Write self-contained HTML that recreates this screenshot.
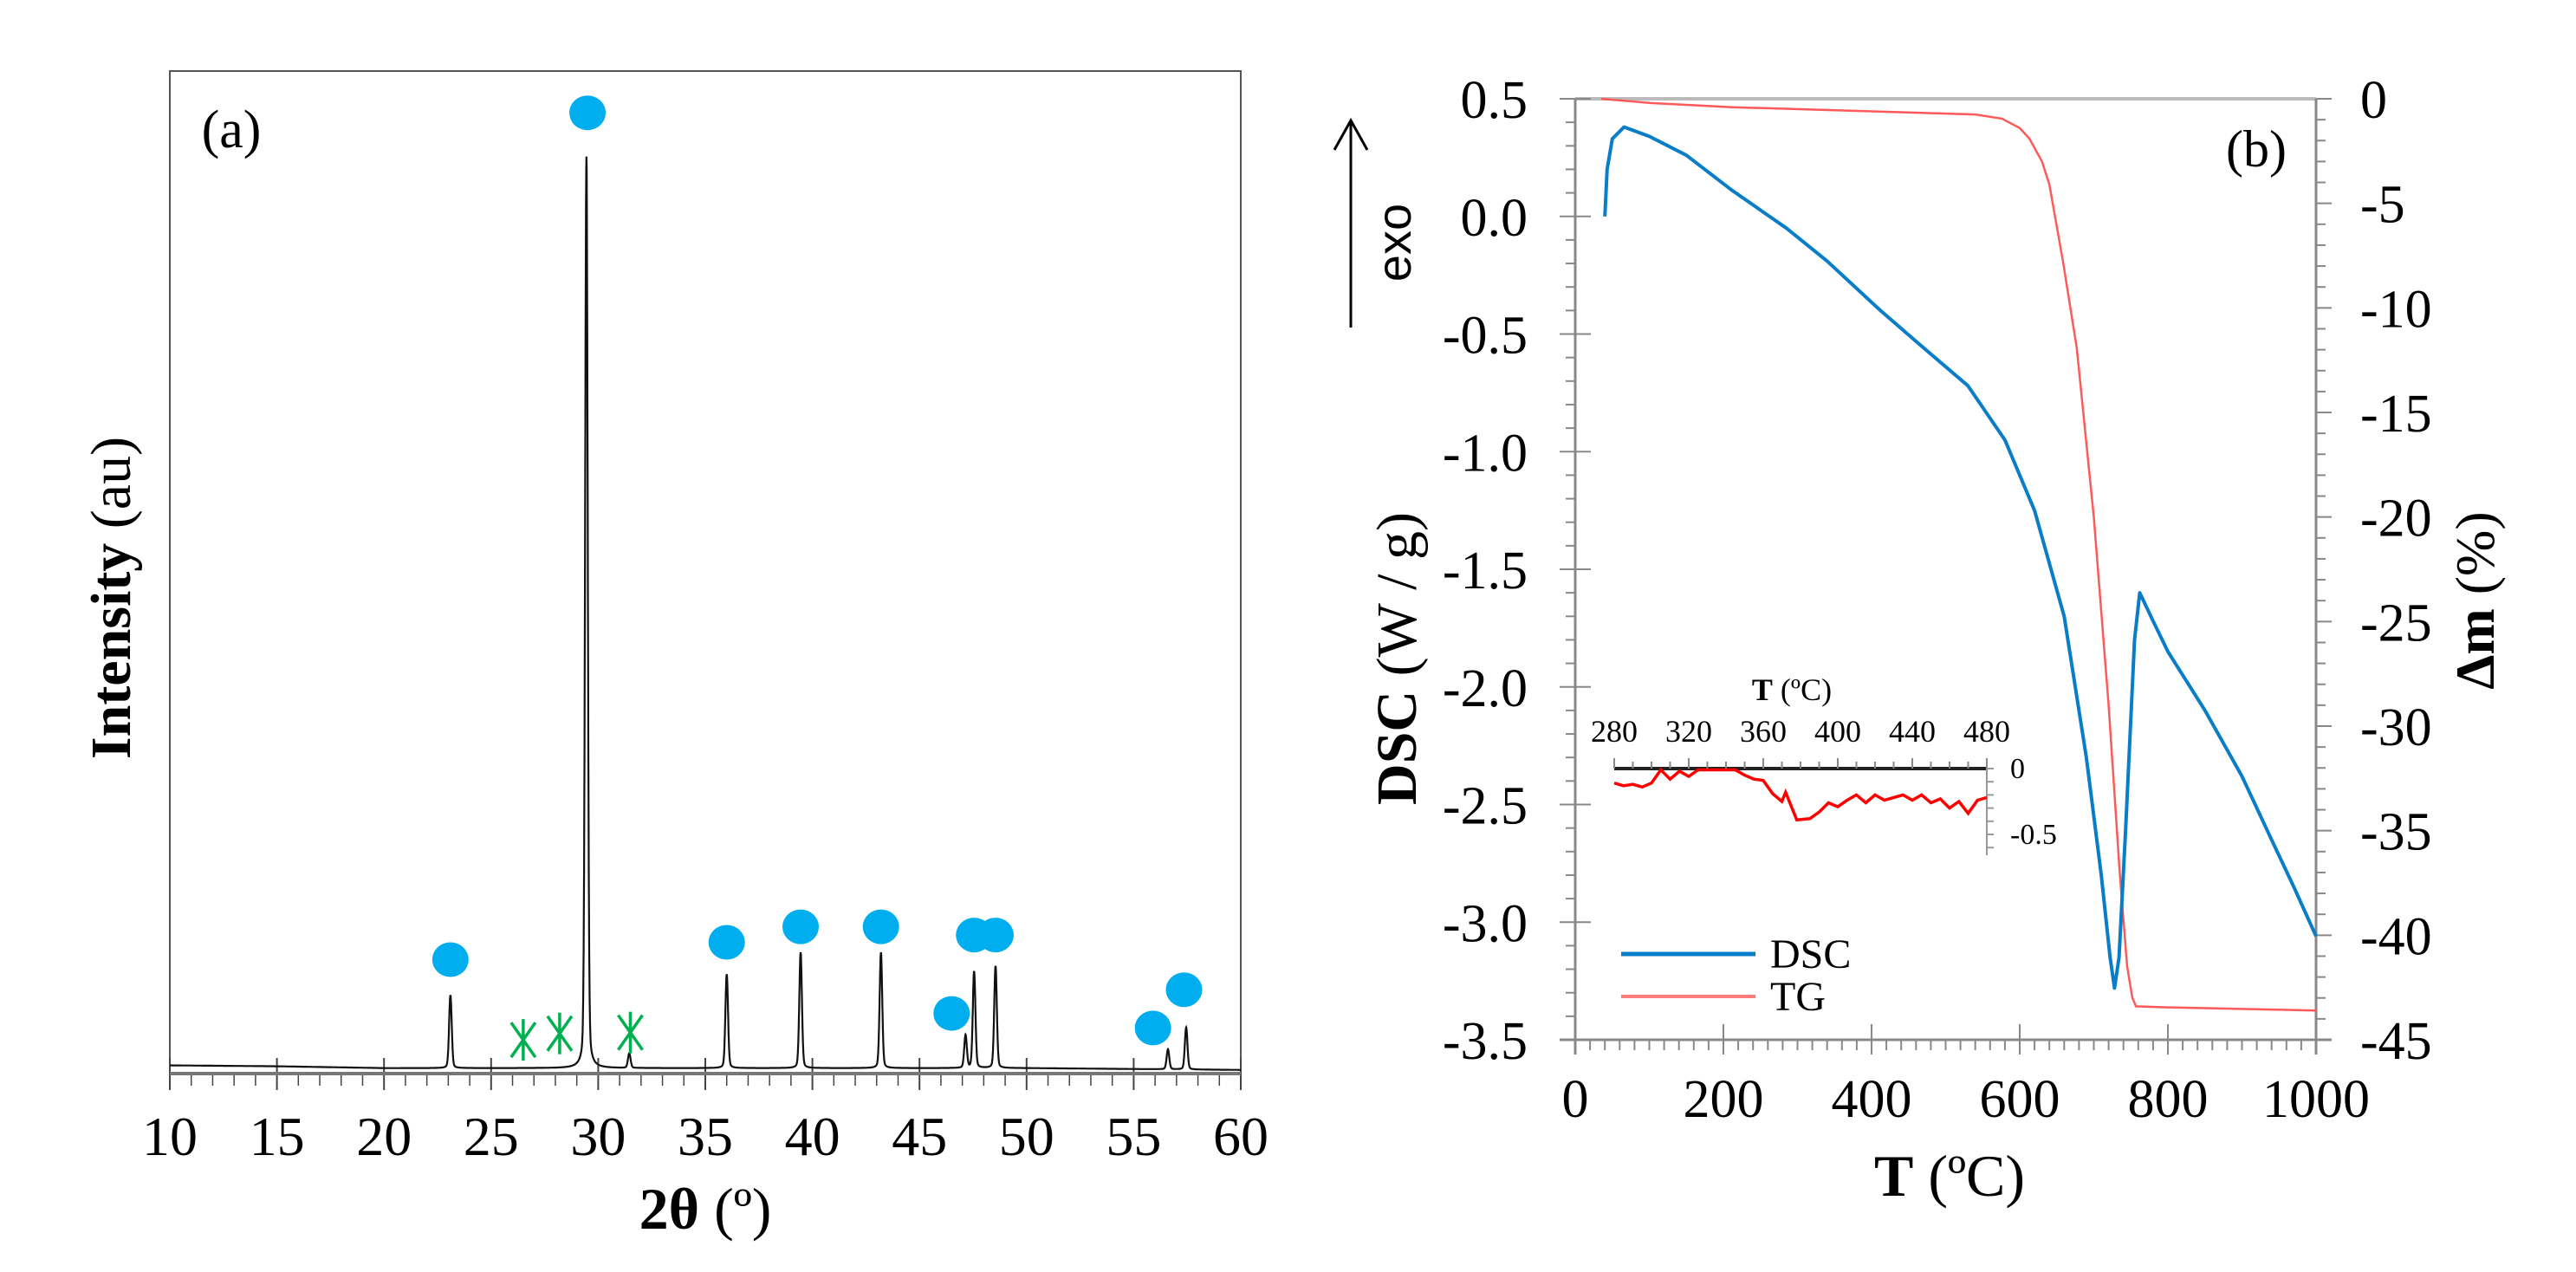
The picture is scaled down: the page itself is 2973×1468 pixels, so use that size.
<!DOCTYPE html>
<html><head><meta charset="utf-8"><style>
html,body{margin:0;padding:0;background:#fff;}
svg{display:block;}
text{font-family:"Liberation Serif",serif;fill:#000;}
</style></head><body>
<svg id="fig" width="2973" height="1468" viewBox="0 0 2973 1468" xmlns="http://www.w3.org/2000/svg">
<g id="panelA"></g>
<g id="panelB"></g>
</svg>
<script>
// ---------- Panel (a) data ----------
const xrdPeakPos = [23.1, 29.45, 31.45, 36.0, 39.45, 43.2, 47.15, 47.55, 48.55, 56.6, 57.45];
const xrdPeakHeight = [8.0, 100, 1.6, 10.3, 12.7, 12.7, 3.6, 10.6, 11.2, 2.2, 4.6];
const xrdBaseline = [0.9, 0.8, 0.6, 0.6, 0.6, 0.6, 0.6, 0.6, 0.6, 0.5, 0.4]; // at 10,15,...,60
const xrdTicks = [10, 15, 20, 25, 30, 35, 40, 45, 50, 55, 60];
const phaseDotPos = [23.1, 29.5, 36.0, 39.45, 43.2, 46.5, 47.55, 48.55, 55.9, 57.35];
const phaseDotInt = [12.5, 105.4, 14.4, 16.1, 16.1, 6.6, 15.2, 15.2, 5.0, 9.2];
const starPos = [26.5, 28.2, 31.5];
const starInt = [3.7, 4.4, 4.5];

// ---------- Panel (b) data ----------
const dscT = [40, 43, 50, 66, 100, 150, 212, 285, 340, 412, 467, 530, 580, 620, 660, 690, 710, 722, 728, 734, 743, 755, 762, 780, 800, 850, 900, 940, 970, 1000];
const dscV = [0.0, 0.2, 0.33, 0.38, 0.34, 0.26, 0.11, -0.05, -0.19, -0.40, -0.55, -0.72, -0.95, -1.25, -1.7, -2.3, -2.8, -3.15, -3.28, -3.15, -2.6, -1.8, -1.6, -1.72, -1.85, -2.1, -2.38, -2.65, -2.85, -3.06];
const tgT = [35, 100, 212, 400, 540, 576, 600, 613, 630, 640, 658, 677, 700, 720, 735, 745, 752, 757, 800, 1000];
const tgV = [0, -0.2, -0.4, -0.6, -0.75, -0.95, -1.4, -1.9, -3.0, -4.1, -7.7, -11.9, -20, -29, -37, -41.5, -43, -43.4, -43.45, -43.6];
const dscTicks = [0.5, 0.0, -0.5, -1.0, -1.5, -2.0, -2.5, -3.0, -3.5];
const tgTicks = [0, -5, -10, -15, -20, -25, -30, -35, -40, -45];
const tTicks = [0, 200, 400, 600, 800, 1000];
const insetT = [280, 285, 290, 295, 300, 305, 310, 315, 320, 325, 330, 345, 350, 355, 360, 365, 370, 372, 378, 385, 390, 395, 400, 405, 410, 415, 420, 425, 430, 435, 440, 445, 450, 455, 460, 465, 470, 475, 480];
const insetV = [-0.11, -0.13, -0.12, -0.14, -0.11, -0.01, -0.08, -0.02, -0.06, -0.01, -0.01, -0.01, -0.05, -0.08, -0.09, -0.19, -0.25, -0.18, -0.39, -0.38, -0.33, -0.26, -0.29, -0.24, -0.2, -0.26, -0.2, -0.24, -0.22, -0.2, -0.24, -0.2, -0.26, -0.23, -0.3, -0.25, -0.34, -0.24, -0.22];
const insetTicks = [280, 320, 360, 400, 440, 480];

const NS = "http://www.w3.org/2000/svg";
function mk(parent, tag, attrs, txt) {
  const e = document.createElementNS(NS, tag);
  for (const k in attrs) e.setAttribute(k, attrs[k]);
  if (txt !== undefined) e.textContent = txt;
  parent.appendChild(e);
  return e;
}

// ===== Panel A =====
const A = document.getElementById('panelA');
const aL = 196, aR = 1432, aT = 82, aB = 1239;
const ax = v => aL + (v - 10) / 50 * (aR - aL);
const ay = v => aB - v * 10.52;

let fr = mk(A, 'rect', {x: aL, y: aT, width: aR - aL, height: aB - aT, fill: 'none', stroke: '#555', 'stroke-width': 2});


for (let v = 10; v <= 60; v++) {
  const major = v % 5 === 0;
  let t = mk(A, 'line', {x1: ax(v), x2: ax(v), y1: major ? aB - 18 : aB, y2: aB + (major ? 19 : 14), stroke: '#444', 'stroke-width': major ? 2 : 1.5});
  
  
}
mk(A, 'line', {x1: aL, x2: aR, y1: aB, y2: aB, stroke: '#777', 'stroke-width': 4});
xrdTicks.forEach(v => {
  let t = mk(A, 'text', {x: ax(v), y: 1333, 'font-size': 64, 'text-anchor': 'middle'}, String(v));
  
  
});
let xt = mk(A, 'text', {x: ax(35), y: 1418, 'font-size': 68, 'text-anchor': 'middle'});


mk(xt, 'tspan', {'font-weight': 'bold'}, '2θ');
mk(xt, 'tspan', {}, ' (º)');
let yt = mk(A, 'text', {x: 0, y: 0, 'font-size': 66, 'text-anchor': 'middle', transform: 'translate(150,690) rotate(-90)'});


mk(yt, 'tspan', {'font-weight': 'bold'}, 'Intensity');
mk(yt, 'tspan', {}, ' (au)');
let la = mk(A, 'text', {x: 267, y: 170, 'font-size': 62, 'text-anchor': 'middle'}, '(a)');



// pattern
function baseAt(x) {
  const i = Math.min(9, Math.floor((x - 10) / 5));
  const f = (x - 10 - i * 5) / 5;
  return xrdBaseline[i] * (1 - f) + xrdBaseline[i + 1] * f;
}
let d = '';
for (let x = 10; x <= 60.0001; x += 0.01) {
  let v = baseAt(x);
  xrdPeakPos.forEach((p, i) => {
    const g = 0.06;
    v += xrdPeakHeight[i] * (0.85 * Math.exp(-((x - p) * (x - p)) / (2 * g * g)) + 0.15 / (1 + ((x - p) / 0.09) ** 2));
  });
  d += (d ? 'L' : 'M') + ax(x).toFixed(1) + ' ' + ay(v).toFixed(1);
}
let pat = mk(A, 'path', {d: d, fill: 'none', stroke: '#111', 'stroke-width': 2.2});


phaseDotPos.forEach((p, i) => {
  let c = mk(A, 'ellipse', {cx: ax(p), cy: ay(phaseDotInt[i]), rx: 21, ry: 20, fill: '#00aeef'});
  
  
});
starPos.forEach((p, i) => {
  const cx = ax(p), cy = ay(starInt[i]);
  let g = mk(A, 'g', {stroke: '#00b050', 'stroke-width': 3.5});
  
  
  mk(g, 'line', {x1: cx, x2: cx, y1: cy - 24, y2: cy + 24});
  mk(g, 'line', {x1: cx - 14, x2: cx + 14, y1: cy - 20, y2: cy + 20});
  mk(g, 'line', {x1: cx + 14, x2: cx - 14, y1: cy - 20, y2: cy + 20});
});

// ===== Panel B =====
const B = document.getElementById('panelB');
const bL = 1818, bR = 2673, bT = 114, bB = 1200;
const bx = t => bL + t / 1000 * (bR - bL);
const byD = v => bT + (0.5 - v) / 4 * (bB - bT);
const byT = v => bT + (-v) / 45 * (bB - bT);
const gray = '#888';
mk(B, 'line', {x1: bL, x2: bR, y1: bT, y2: bT, stroke: '#bbb', 'stroke-width': 4});
let la2 = mk(B, 'line', {x1: bL, x2: bL, y1: bT, y2: bB + 17, stroke: gray, 'stroke-width': 3});


let ra2 = mk(B, 'line', {x1: bR, x2: bR, y1: bT, y2: bB + 17, stroke: gray, 'stroke-width': 3});


let xa2 = mk(B, 'line', {x1: bL - 18, x2: bR + 18, y1: bB, y2: bB, stroke: gray, 'stroke-width': 3});


for (let t = 0; t <= 1000; t += 20) {
  const major = t % 200 === 0;
  mk(B, 'line', {x1: bx(t), x2: bx(t), y1: major ? bB - 18 : bB, y2: bB + (major ? 17 : 12), stroke: gray, 'stroke-width': 2});
}
for (let i = 0; i <= 40; i++) {
  const v = 0.5 - i * 0.1, major = i % 5 === 0;
  mk(B, 'line', {x1: bL - (major ? 18 : 11), x2: major ? bL + 18 : bL, y1: byD(v), y2: byD(v), stroke: gray, 'stroke-width': 2});
}
for (let i = 0; i <= 45; i++) {
  const major = i % 5 === 0;
  mk(B, 'line', {x1: bR, x2: bR + (major ? 18 : 11), y1: byT(-i), y2: byT(-i), stroke: gray, 'stroke-width': 2});
}
tTicks.forEach(t => {
  let e = mk(B, 'text', {x: bx(t), y: 1289, 'font-size': 62, 'text-anchor': 'middle'}, String(t));
  
  
});
dscTicks.forEach(v => {
  let e = mk(B, 'text', {x: 1763, y: byD(v) + 22, 'font-size': 62, 'text-anchor': 'end'}, v.toFixed(1));
  
  
});
tgTicks.forEach(v => {
  let e = mk(B, 'text', {x: 2724, y: byT(v) + 22, 'font-size': 62, 'text-anchor': 'start'}, String(v));
  
  
});
let tt = mk(B, 'text', {x: 2250, y: 1380, 'font-size': 68, 'text-anchor': 'middle'});


mk(tt, 'tspan', {'font-weight': 'bold'}, 'T');
mk(tt, 'tspan', {}, ' (ºC)');
let dt = mk(B, 'text', {x: 0, y: 0, 'font-size': 66, 'text-anchor': 'middle', transform: 'translate(1634,760) rotate(-90)'});


mk(dt, 'tspan', {'font-weight': 'bold'}, 'DSC');
mk(dt, 'tspan', {}, ' (W / g)');
let mt = mk(B, 'text', {x: 0, y: 0, 'font-size': 64, 'text-anchor': 'middle', transform: 'translate(2878,693) rotate(-90)'});


mk(mt, 'tspan', {'font-weight': 'bold'}, 'Δm');
mk(mt, 'tspan', {}, ' (%)');
let ex = mk(B, 'text', {x: 0, y: 0, 'font-size': 56, 'text-anchor': 'middle', transform: 'translate(1628,280) rotate(-90)', style: 'font-family:"Liberation Sans",sans-serif'}, 'exo');


let ar = mk(B, 'path', {d: 'M1559 378 L1559 140 M1540 173 L1559 139 L1578 173', fill: 'none', stroke: '#000', 'stroke-width': 3});


let lb = mk(B, 'text', {x: 2604, y: 192, 'font-size': 60, 'text-anchor': 'middle'}, '(b)');



function pathFrom(xs, ys, fx, fy) {
  return xs.map((t, i) => (i ? 'L' : 'M') + fx(t).toFixed(1) + ' ' + fy(ys[i]).toFixed(1)).join('');
}
let tg = mk(B, 'path', {d: pathFrom(tgT, tgV, bx, byT), fill: 'none', stroke: '#ff5a5a', 'stroke-width': 2.5});


let dsc = mk(B, 'path', {d: pathFrom(dscT, dscV, bx, byD), fill: 'none', stroke: '#0a7dc8', 'stroke-width': 4, 'stroke-linejoin': 'round'});



// legend
let lg = mk(B, 'g', {});


let l1 = mk(lg, 'line', {x1: 1871, x2: 2026, y1: 1101, y2: 1101, stroke: '#0a7dc8', 'stroke-width': 5});


mk(lg, 'text', {x: 2043, y: 1117, 'font-size': 48}, 'DSC');
let l2 = mk(lg, 'line', {x1: 1871, x2: 2026, y1: 1150, y2: 1150, stroke: '#ff7a7a', 'stroke-width': 4});


mk(lg, 'text', {x: 2043, y: 1166, 'font-size': 48}, 'TG');

// inset
const I = mk(B, 'g', {});


const iL = 1863, iR = 2293, iT = 887;
const ix = t => iL + (t - 280) / 200 * (iR - iL);
const iy = v => iT - v * 152;
mk(I, 'line', {x1: iL, x2: iR, y1: iT, y2: iT, stroke: '#222', 'stroke-width': 4});
mk(I, 'line', {x1: iR, x2: iR, y1: iT - 8, y2: 987, stroke: '#999', 'stroke-width': 2});
for (let t = 280; t <= 480; t += 10) {
  mk(I, 'line', {x1: ix(t), x2: ix(t), y1: iT, y2: iT - (t % 40 === 0 ? 12 : 8), stroke: '#888', 'stroke-width': 2});
}
for (let v = 0; v >= -0.6; v -= 0.1) {
  mk(I, 'line', {x1: iR, x2: iR + 8, y1: iy(v), y2: iy(v), stroke: '#999', 'stroke-width': 2});
}
insetTicks.forEach(t => {
  let e = mk(I, 'text', {x: ix(t), y: 856, 'font-size': 36, 'text-anchor': 'middle'}, String(t));
  
  
});
let it = mk(I, 'text', {x: 2068, y: 808, 'font-size': 36, 'text-anchor': 'middle'});


mk(it, 'tspan', {'font-weight': 'bold'}, 'T');
mk(it, 'tspan', {}, ' (ºC)');
let i0 = mk(I, 'text', {x: 2320, y: 898, 'font-size': 34}, '0');


let i5 = mk(I, 'text', {x: 2320, y: 974, 'font-size': 34}, '-0.5');


let ic = mk(I, 'path', {d: pathFrom(insetT, insetV, ix, iy), fill: 'none', stroke: '#ff0000', 'stroke-width': 3.5});


</script>
</body></html>
